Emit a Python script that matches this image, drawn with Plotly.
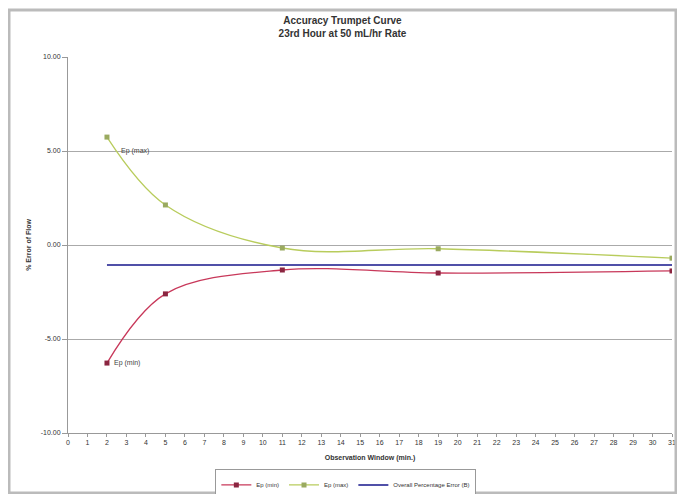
import plotly.graph_objects as go

window = [2, 5, 11, 19, 31]
ep_max = [5.74, 2.13, -0.16, -0.2, -0.7]
ep_min = [-6.28, -2.6, -1.33, -1.49, -1.38]
overall_x = [2, 31]
overall = [-1.06, -1.06]

xticks = list(range(0, 32))
yticks = [10, 5, 0, -5, -10]
yticklabels = ["10.00", "5.00", "0.00", "-5.00", "-10.00"]

fig = go.Figure()

fig.add_trace(go.Scatter(x=window, y=ep_min, mode="lines+markers", name="Ep (min)",
                         line=dict(color="#C8385A", width=1.3, shape="spline"),
                         marker=dict(symbol="square", size=5, color="#8B2540")))
fig.add_trace(go.Scatter(x=window, y=ep_max, mode="lines+markers", name="Ep (max)",
                         line=dict(color="#B8CC5C", width=1.3, shape="spline"),
                         marker=dict(symbol="square", size=5, color="#9AAA60")))
fig.add_trace(go.Scatter(x=overall_x, y=overall, mode="lines", name="Overall Percentage Error (B)",
                         line=dict(color="#5050A8", width=2)))

fig.add_annotation(x=window[0], y=5.0, text="Ep (max)", showarrow=False,
                   xanchor="left", yanchor="middle", xshift=12,
                   font=dict(size=7, color="#444444"))
fig.add_annotation(x=window[0], y=ep_min[0], text="Ep (min)", showarrow=False,
                   xanchor="left", yanchor="middle", xshift=5,
                   font=dict(size=7, color="#444444"))

# outer chart frame (plot area is 604 x 376 px)
fig.add_shape(type="rect", xref="paper", yref="paper",
              x0=-59 / 604, x1=1 + 4 / 604, y0=-60 / 376, y1=1 + 47 / 376,
              line=dict(color="#BBBBBB", width=3))

fig.update_layout(
    width=669, height=486,
    margin=dict(l=60, r=5, t=49, b=61, autoexpand=False),
    paper_bgcolor="white", plot_bgcolor="white",
    font=dict(family="Liberation Sans, Arial, sans-serif", size=7, color="#333333"),
    title=dict(text="<b>Accuracy Trumpet Curve<br>23rd Hour at 50 mL/hr Rate</b>",
               x=0.5, xanchor="center", y=0.967, yanchor="top",
               font=dict(size=10, color="#333333")),
    showlegend=True,
    legend=dict(orientation="h", x=0.46, xanchor="center", y=-0.097, yanchor="top",
                bordercolor="#999999", borderwidth=1, font=dict(size=6),
                itemwidth=30),
    xaxis=dict(range=[0, 31], tickvals=xticks, showgrid=False,
               showline=True, linecolor="#999999", ticks="outside", ticklen=3,
               tickcolor="#999999", zeroline=False, ticklabeloverflow="allow",
               title=dict(text="<b>Observation Window (min.)</b>", font=dict(size=7), standoff=9)),
    yaxis=dict(range=[-10, 10], tickvals=yticks, ticktext=yticklabels,
               showgrid=True, gridcolor="#AAAAAA", gridwidth=1,
               showline=True, linecolor="#999999", ticks="outside", ticklen=5,
               tickcolor="#999999", zeroline=False,
               title=dict(text="<b>% Error of Flow</b>", font=dict(size=7), standoff=8)),
)

fig.write_html("out.html")
